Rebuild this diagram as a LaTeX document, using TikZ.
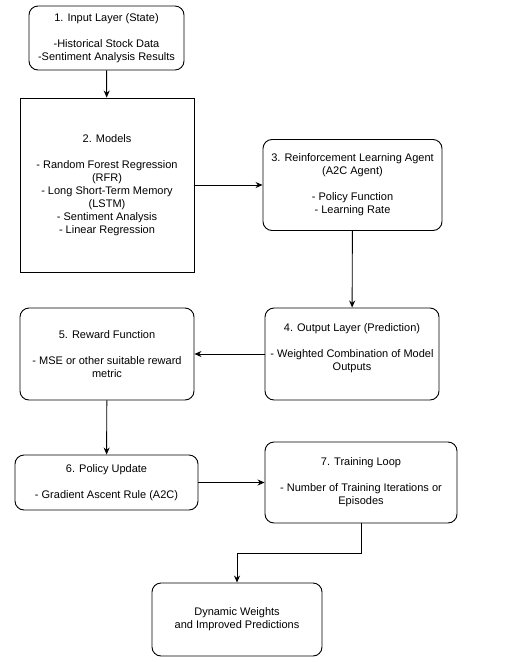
\documentclass[tikz,border=0pt]{standalone}
\usepackage{fontspec}
\setmainfont{Liberation Sans}
\usepackage{tikz}
\usetikzlibrary{arrows.meta,positioning}

\begin{document}
\begin{tikzpicture}[x=1pt, y=-1pt]
		\tikzstyle{Box}		= [rectangle, draw, line width=0.9pt, rounded corners=9pt, fill=white, inner sep=0pt, align=center, font=\fontsize{11}{13}\selectfont]
		\tikzstyle{Square}	= [Box, rounded corners=0pt]
		\tikzstyle{Flow}	= [line width=0.9pt, -{Stealth[length=7pt, width=6pt]}]

		\useasboundingbox (0, 0) rectangle (512, 662);

		\node (s1) at (106.5, 38) [Box, minimum width=155, minimum height=64]
			{1. Input Layer (State)\\[13pt]-Historical Stock Data\\-Sentiment Analysis Results};
		\node (s2) at (107, 185) [Square, minimum width=174, minimum height=174]
			{2. Models\\[13pt]- Random Forest Regression\\(RFR)\\- Long Short-Term Memory\\(LSTM)\\- Sentiment Analysis\\- Linear Regression};
		\node (s3) at (352.5, 185) [Box, minimum width=179, minimum height=91]
			{3. Reinforcement Learning Agent\\(A2C Agent)\\[13pt]- Policy Function\\- Learning Rate};
		\node (s4) at (352, 354) [Box, minimum width=174, minimum height=92]
			{4. Output Layer (Prediction)\\[13pt]- Weighted Combination of Model\\Outputs\\\mbox{}};
		\node (s5) at (107, 354) [Box, minimum width=174, minimum height=92]
			{5. Reward Function\\[13pt]- MSE or other suitable reward\\metric};
		\node (s6) at (106.5, 482.5) [Box, minimum width=183, minimum height=55]
			{6. Policy Update\\[13pt]- Gradient Ascent Rule (A2C)};
		\node (s7) at (361, 482.5) [Box, minimum width=192, minimum height=81]
			{7. Training Loop\\[13pt]- Number of Training Iterations or\\Episodes};
		\node (s8) at (237, 619.5) [Box, minimum width=170, minimum height=73]
			{Dynamic Weights\\and Improved Predictions};

		\coordinate (k7) at (237, 553);

		\draw [Flow] (s1) to (s2);
		\draw [Flow] (s2.east) to (s2.east -| s3.west);
		\draw [Flow] (s3) to (s4);
		\draw [Flow] (s4) to (s5);
		\draw [Flow] (s5) to (s6);
		\draw [Flow] (s6.east) to (s6.east -| s7.west);
		\draw [Flow] (s7.south) |- (k7) -- (s8.north);
	\end{tikzpicture}
\end{document}
